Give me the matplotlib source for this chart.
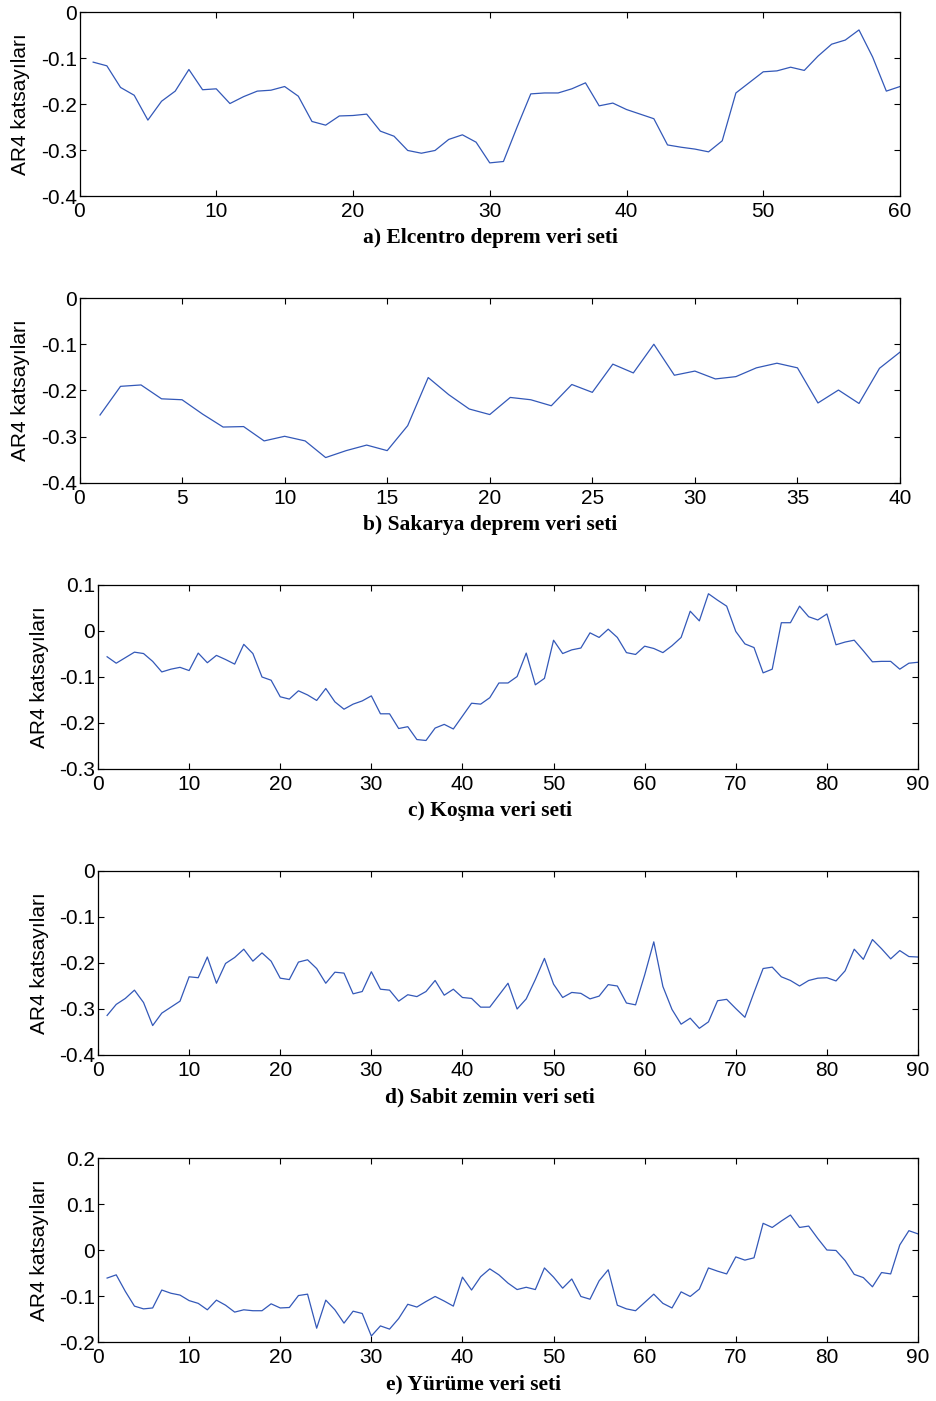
import matplotlib
matplotlib.use('Agg')
import matplotlib.pyplot as plt

# AR4 coefficients per data set
elcentro = [-0.109, -0.117, -0.164, -0.181, -0.235, -0.194, -0.172, -0.125, -0.169, -0.167,
            -0.199, -0.184, -0.172, -0.170, -0.162, -0.183, -0.238, -0.246, -0.226, -0.225,
            -0.222, -0.259, -0.270, -0.301, -0.307, -0.301, -0.277, -0.267, -0.283, -0.328,
            -0.325, -0.250, -0.178, -0.176, -0.176, -0.167, -0.154, -0.204, -0.198, -0.212,
            -0.222, -0.232, -0.289, -0.294, -0.298, -0.304, -0.280, -0.176, -0.153, -0.130,
            -0.128, -0.120, -0.127, -0.096, -0.070, -0.061, -0.039, -0.098, -0.172, -0.162]

sakarya = [-0.253, -0.191, -0.188, -0.218, -0.220, -0.251, -0.279, -0.278, -0.309, -0.299,
           -0.309, -0.345, -0.330, -0.318, -0.330, -0.276, -0.172, -0.209, -0.240, -0.252,
           -0.215, -0.220, -0.233, -0.187, -0.204, -0.143, -0.162, -0.100, -0.167, -0.158,
           -0.175, -0.170, -0.151, -0.141, -0.151, -0.227, -0.199, -0.228, -0.152, -0.117]

kosma = [-0.056, -0.070, -0.058, -0.046, -0.049, -0.066, -0.089, -0.083, -0.079, -0.086,
         -0.048, -0.069, -0.053, -0.062, -0.072, -0.029, -0.049, -0.100, -0.107, -0.143,
         -0.148, -0.130, -0.139, -0.151, -0.125, -0.154, -0.170, -0.159, -0.152, -0.141,
         -0.180, -0.180, -0.212, -0.208, -0.236, -0.238, -0.211, -0.203, -0.213, -0.185,
         -0.157, -0.159, -0.145, -0.113, -0.113, -0.099, -0.048, -0.117, -0.103, -0.020,
         -0.049, -0.041, -0.037, -0.004, -0.014, 0.004, -0.014, -0.047, -0.051, -0.033,
         -0.038, -0.047, -0.032, -0.014, 0.043, 0.022, 0.081, 0.067, 0.054, -0.001,
         -0.028, -0.036, -0.091, -0.083, 0.018, 0.018, 0.054, 0.031, 0.024, 0.037,
         -0.030, -0.024, -0.020, -0.043, -0.067, -0.066, -0.066, -0.083, -0.070, -0.068]

sabit = [-0.314, -0.290, -0.277, -0.259, -0.286, -0.336, -0.309, -0.296, -0.283, -0.230,
         -0.232, -0.187, -0.244, -0.201, -0.188, -0.170, -0.196, -0.178, -0.196, -0.233,
         -0.236, -0.198, -0.193, -0.212, -0.244, -0.220, -0.222, -0.267, -0.262, -0.219,
         -0.257, -0.259, -0.283, -0.269, -0.273, -0.262, -0.238, -0.270, -0.257, -0.275,
         -0.277, -0.296, -0.296, -0.270, -0.244, -0.300, -0.278, -0.236, -0.190, -0.246,
         -0.275, -0.264, -0.266, -0.278, -0.272, -0.247, -0.250, -0.287, -0.291, -0.226,
         -0.154, -0.251, -0.301, -0.333, -0.320, -0.342, -0.328, -0.282, -0.279, -0.299,
         -0.318, -0.264, -0.212, -0.209, -0.230, -0.238, -0.250, -0.238, -0.233, -0.232,
         -0.239, -0.217, -0.170, -0.192, -0.149, -0.169, -0.191, -0.173, -0.186, -0.187]

yurume = [-0.061, -0.054, -0.090, -0.122, -0.128, -0.126, -0.087, -0.094, -0.098, -0.110,
          -0.116, -0.130, -0.109, -0.120, -0.135, -0.130, -0.132, -0.132, -0.117, -0.126,
          -0.125, -0.099, -0.096, -0.170, -0.109, -0.130, -0.159, -0.133, -0.138, -0.187,
          -0.165, -0.172, -0.149, -0.118, -0.124, -0.112, -0.101, -0.111, -0.122, -0.059,
          -0.087, -0.058, -0.041, -0.054, -0.072, -0.086, -0.081, -0.086, -0.039, -0.059,
          -0.083, -0.063, -0.101, -0.107, -0.067, -0.043, -0.120, -0.128, -0.132, -0.114,
          -0.096, -0.116, -0.126, -0.091, -0.101, -0.085, -0.039, -0.046, -0.052, -0.015,
          -0.022, -0.017, 0.058, 0.049, 0.063, 0.076, 0.049, 0.052, 0.025, 0.000,
          -0.001, -0.023, -0.053, -0.060, -0.080, -0.049, -0.052, 0.011, 0.042, 0.035]

captions = ['a) Elcentro deprem veri seti', 'b) Sakarya deprem veri seti',
            'c) Koşma veri seti', 'd) Sabit zemin veri seti', 'e) Yürüme veri seti']
series = [elcentro, sakarya, kosma, sabit, yurume]
xmax = [60, 40, 90, 90, 90]
xstep = [10, 5, 10, 10, 10]
ylims = [(-0.4, 0), (-0.4, 0), (-0.3, 0.1), (-0.4, 0), (-0.2, 0.2)]

# axes boxes in pixels: left, top, right, bottom ; caption centre x, y
W, H = 936, 1401
boxes = [(79.5, 12, 900, 196), (79.5, 298, 900, 483), (98, 585, 918, 769),
         (98, 871, 918, 1055), (98, 1158, 918, 1342)]
cap_pos = [(490, 238), (490, 525), (490, 811), (490, 1097), (474, 1384)]

plt.rcParams['font.family'] = ['Liberation Sans', 'DejaVu Sans']
fig = plt.figure(figsize=(W / 100, H / 100), dpi=100)

for i in range(5):
    l, t, r, b = boxes[i]
    ax = fig.add_axes([l / W, 1 - b / H, (r - l) / W, (b - t) / H])
    y = series[i]
    x = list(range(1, len(y) + 1))
    ax.plot(x, y, color='#3358b8', lw=0.9)
    ax.set_xlim(0, xmax[i])
    ax.set_ylim(*ylims[i])
    ax.set_xticks(range(0, xmax[i] + 1, xstep[i]))
    lo, hi = ylims[i]
    yt = [round(lo + 0.1 * k, 1) for k in range(int(round((hi - lo) / 0.1)) + 1)]
    ax.set_yticks(yt)
    ax.set_yticklabels(['0' if v == 0 else ('%g' % v) for v in yt])
    ax.tick_params(direction='in', top=True, right=True, length=4, width=0.8,
                   labelsize=15)
    ax.tick_params(axis='y', pad=2)
    ax.tick_params(axis='x', pad=4)
    for s in ax.spines.values():
        s.set_linewidth(0.9)
    ax.set_ylabel('AR4 katsayıları', fontsize=15)
    ax.yaxis.set_label_coords(-0.06, 0.5)
    cx, cy = cap_pos[i]
    fig.text(cx / W, 1 - cy / H, captions[i], ha='center', va='center',
             fontsize=15.5, fontweight='bold', family='Liberation Serif')

fig.savefig('out.png', dpi=100)
